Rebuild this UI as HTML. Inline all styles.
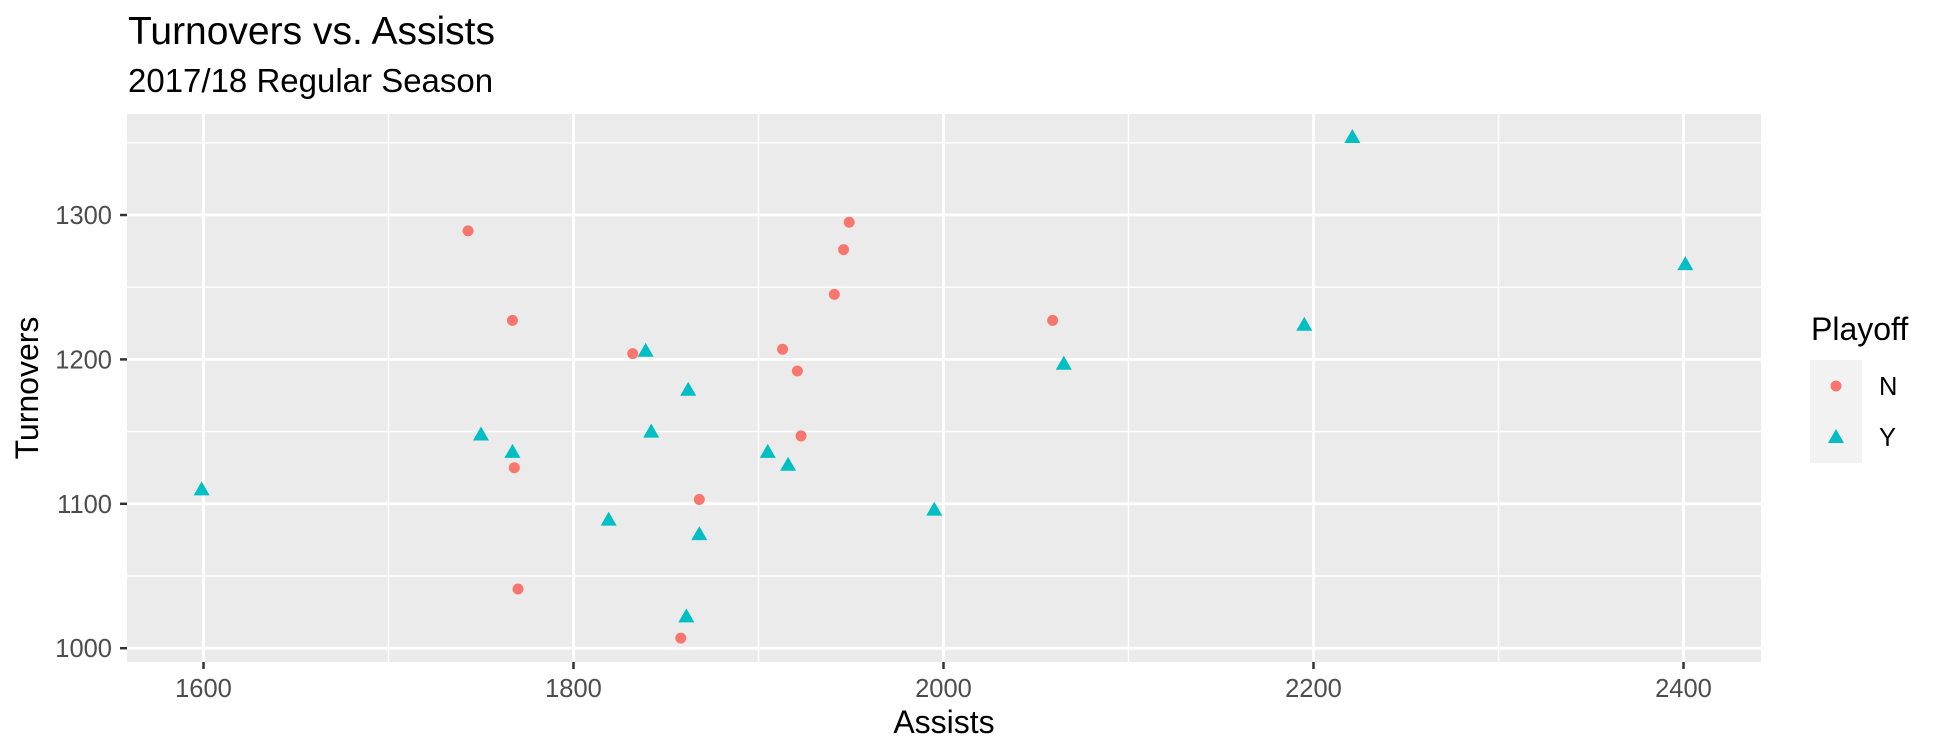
<!DOCTYPE html>
<html><head><meta charset="utf-8"><style>
html,body{margin:0;padding:0;background:#fff;}
svg{display:block;font-family:"Liberation Sans",sans-serif;}
</style></head><body>
<svg id="chart" width="1944" height="756" viewBox="0 0 1944 756">
<text x="128" y="44" font-size="39" fill="#000">Turnovers vs. Assists</text>
<text x="128" y="92" font-size="33" fill="#000">2017/18 Regular Season</text>
<rect x="127" y="114" width="1634" height="548" fill="#ebebeb"/>
<g id="grid"></g>
<g id="axes"></g>
<g id="points"></g>
<text x="944" y="733" font-size="32" text-anchor="middle" fill="#000">Assists</text>
<text transform="translate(38,388) rotate(-90)" font-size="32" text-anchor="middle" fill="#000">Turnovers</text>
<g>
<text x="1811" y="340" font-size="32" fill="#000">Playoff</text>
<rect x="1810" y="360" width="52" height="103" fill="#f2f2f2"/>
<circle cx="1836" cy="386" r="5.5" fill="#F8766D"/>
<path d="M1836,429 L1844,443 L1828,443 Z" fill="#00BFC4"/>
<text x="1879" y="395" font-size="25.5" fill="#000">N</text>
<text x="1879" y="446" font-size="25.5" fill="#000">Y</text>
</g>
</svg>
<script>
const nAssists = [1743,1767,1768,1770,1832,1858,1868,1913,1921,1923,1941,1946,1949,2059];
const nTurnovers = [1289,1227,1125,1041,1204,1007,1103,1207,1192,1147,1245,1276,1295,1227];
const yAssists = [1599,1750,1767,1819,1839,1842,1861,1862,1868,1905,1916,1995,2065,2195,2221,2401];
const yTurnovers = [1110,1148,1136,1089,1206,1150,1022,1179,1079,1136,1127,1096,1197,1224,1354,1266];
const xTicks = [1600,1800,2000,2200,2400];
const xMinor = [1700,1900,2100,2300];
const yTicks = [1000,1100,1200,1300];
const yMinor = [1050,1150,1250,1350];

const NS = "http://www.w3.org/2000/svg";
const PX0 = 127, PX1 = 1761, PY0 = 114, PY1 = 662;
function xs(v){ return 203.5 + (v - 1600) * 1.85; }
function ys(v){ return 215 + (1300 - v) * 1.444; }
function mk(tag, attrs, parent){
  const e = document.createElementNS(NS, tag);
  for (const k in attrs) e.setAttribute(k, attrs[k]);
  parent.appendChild(e); return e;
}
const grid = document.getElementById('grid');
const axes = document.getElementById('axes');
const pts = document.getElementById('points');

xMinor.forEach(v => { const l = mk('line',{x1:xs(v),x2:xs(v),y1:PY0,y2:PY1,stroke:'#fff','stroke-width':1.4},grid);
  
   });
yMinor.forEach(v => { const l = mk('line',{x1:PX0,x2:PX1,y1:ys(v),y2:ys(v),stroke:'#fff','stroke-width':1.4},grid);
  
   });
xTicks.forEach(v => {
  const l = mk('line',{x1:xs(v),x2:xs(v),y1:PY0,y2:PY1,stroke:'#fff','stroke-width':2.8},grid);
  
  
  const t = mk('line',{x1:xs(v),x2:xs(v),y1:PY1,y2:PY1+7,stroke:'#333','stroke-width':2.5},axes);
  
  
  const tx = mk('text',{x:xs(v),y:697,'font-size':25.5,'text-anchor':'middle',fill:'#4d4d4d'},axes);
  tx.textContent = v;
  
  
});
yTicks.forEach(v => {
  const l = mk('line',{x1:PX0,x2:PX1,y1:ys(v),y2:ys(v),stroke:'#fff','stroke-width':2.8},grid);
  
  
  const t = mk('line',{x1:PX0-7,x2:PX0,y1:ys(v),y2:ys(v),stroke:'#333','stroke-width':2.5},axes);
  
  
  const tx = mk('text',{x:112,y:ys(v)+9,'font-size':25.5,'text-anchor':'end',fill:'#4d4d4d'},axes);
  tx.textContent = v;
  
  
});
nAssists.forEach((a,i) => {
  const c = mk('circle',{cx:xs(a),cy:ys(nTurnovers[i]),r:5.5,fill:'#F8766D'},pts);
  
  
});
yAssists.forEach((a,i) => {
  const x = xs(a), y = ys(yTurnovers[i]);
  const p = mk('path',{d:`M${x},${y-8} L${x+8},${y+6} L${x-8},${y+6} Z`,fill:'#00BFC4'},pts);
  
  
});
</script>
</body></html>
